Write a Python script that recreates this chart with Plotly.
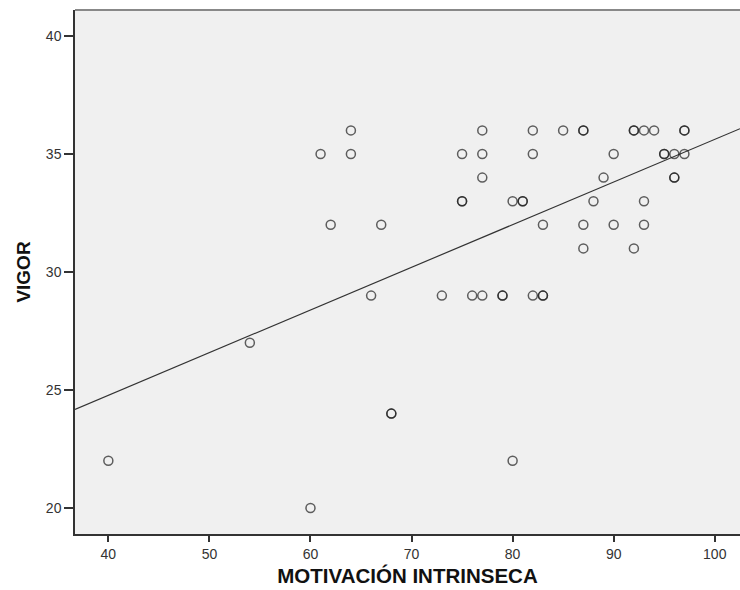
import numpy as np
import plotly.graph_objects as go

# Observations: intrinsic motivation score vs. vigor score
motivacion = [40, 54, 60, 68, 68, 80,
              61, 64, 64, 62, 67, 66,
              73, 75, 75, 75, 76, 77, 77, 77, 77,
              79, 79, 80, 81, 81, 82, 82, 82, 83, 83, 83,
              85, 87, 87, 87, 87, 88, 89, 90, 90,
              92, 92, 92, 93, 93, 93, 94, 95, 95, 96, 96, 96, 97, 97, 97]
vigor = [22, 27, 20, 24, 24, 22,
         35, 36, 35, 32, 32, 29,
         29, 35, 33, 33, 29, 36, 35, 34, 29,
         29, 29, 33, 33, 33, 36, 35, 29, 32, 29, 29,
         36, 36, 36, 32, 31, 33, 34, 35, 32,
         36, 36, 31, 36, 33, 32, 36, 35, 35, 35, 34, 34, 36, 36, 35]

x_range = [36.7, 102.5]
y_range = [18.9, 41.1]
x_ticks = [40, 50, 60, 70, 80, 90, 100]
y_ticks = [20, 25, 30, 35, 40]

# Least-squares fit line across the visible x range
slope, intercept = np.polyfit(motivacion, vigor, 1)
fit_x = np.array(x_range)
fit_y = intercept + slope * fit_x

fig = go.Figure()
fig.add_trace(go.Scatter(
    x=fit_x, y=fit_y, mode="lines",
    line=dict(color="#333333", width=1.2),
    hoverinfo="skip", showlegend=False,
))
fig.add_trace(go.Scatter(
    x=motivacion, y=vigor, mode="markers",
    marker=dict(symbol="circle-open", size=9,
                color="rgba(30,30,30,0.7)",
                line=dict(color="rgba(30,30,30,0.7)", width=1.5)),
    showlegend=False,
))

axis_font = dict(family="Liberation Sans, Arial, sans-serif", size=14, color="#333333")

fig.update_xaxes(
    range=x_range, tickvals=x_ticks, showgrid=False, zeroline=False,
    showline=True, linecolor="#333333", linewidth=1.5,
    ticks="outside", ticklen=6, tickwidth=1.5, tickcolor="#333333",
    tickfont=axis_font,
    title=dict(text="<b>MOTIVACIÓN INTRINSECA</b>",
               font=dict(family="Liberation Sans, Arial, sans-serif", size=20.5, color="#111111"),
               standoff=8),
)
fig.update_yaxes(
    range=y_range, tickvals=y_ticks, showgrid=False, zeroline=False,
    showline=True, linecolor="#333333", linewidth=1.5,
    ticks="outside", ticklen=9, tickwidth=1.5, tickcolor="#333333",
    tickfont=axis_font,
    title=dict(text="<b>VIGOR</b>",
               font=dict(family="Liberation Sans, Arial, sans-serif", size=19, color="#111111"),
               standoff=10),
)

# Top frame edge of the plotting area
fig.add_shape(type="line", xref="paper", yref="paper", x0=0, x1=1, y0=1, y1=1,
              line=dict(color="#888888", width=2))

fig.update_layout(
    width=740, height=590,
    margin=dict(l=75, r=0, t=10, b=56),
    plot_bgcolor="#F0F0F0", paper_bgcolor="#FFFFFF",
)

fig.write_html("out.html")
